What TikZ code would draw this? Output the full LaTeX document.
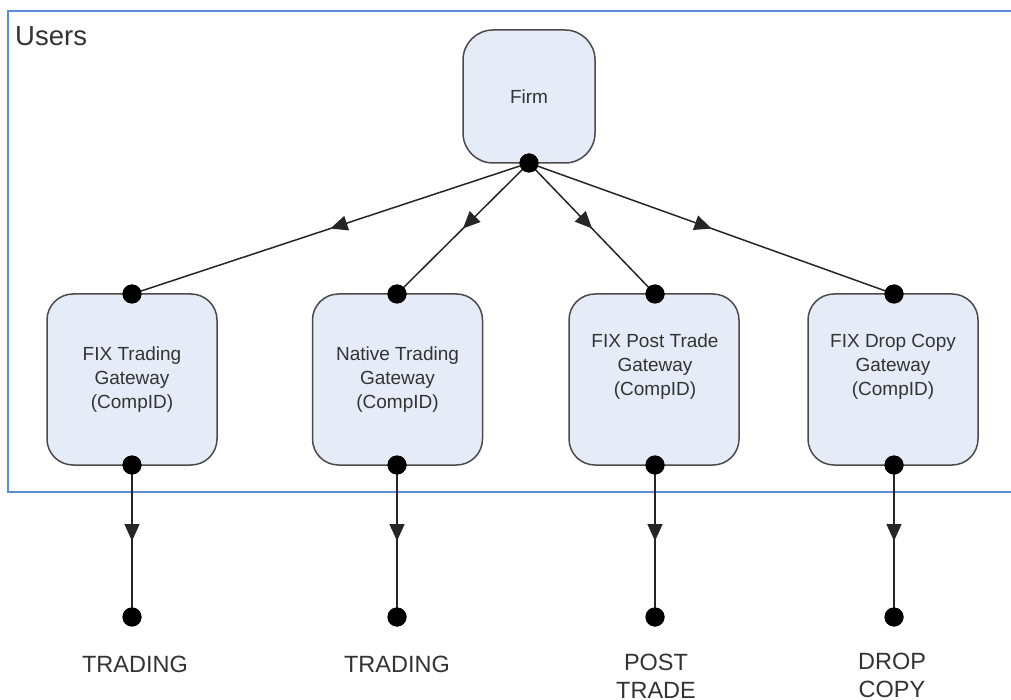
\documentclass[tikz,border=0pt]{standalone}
\usepackage{fontspec}
\setmainfont{Liberation Sans}
\usetikzlibrary{arrows.meta,decorations.markings}
\definecolor{boxfill}{HTML}{E6ECF7}
\definecolor{boxline}{HTML}{4A4A4A}
\definecolor{frameblue}{HTML}{5B8ED8}
\definecolor{txt}{HTML}{333333}
\tikzset{
  gwbox/.style={draw=boxline, line width=1.5pt, fill=boxfill, rounded corners=26pt,
    minimum width=170pt, minimum height=171pt, inner sep=0pt},
  firmbox/.style={draw=boxline, line width=1.5pt, fill=boxfill, rounded corners=30pt,
    minimum width=132pt, minimum height=133pt, inner sep=0pt, text=txt,
    font=\fontsize{19}{24}\selectfont},
  gwtext/.style={text=txt, align=center, inner sep=0pt, font=\fontsize{19}{24}\selectfont},
  endlabel/.style={text=txt, align=center, inner sep=0pt, font=\fontsize{23.5}{28}\selectfont},
  dot/.style={circle, fill=black, minimum size=19pt, inner sep=0pt},
  endpt/.style={circle, fill=black, minimum size=19pt, inner sep=0pt},
  conn/.style={draw=black!85, line width=1.5pt,
    postaction={decorate},
    decoration={markings, mark=at position 0.5 with {\arrow{Triangle[length=17pt,width=15pt]}}}},
}
\begin{document}
\begin{tikzpicture}[x=1pt,y=-1pt]
\useasboundingbox (0,0) rectangle (1011,700);
\fill[white] (0,0) rectangle (1011,700);
% Users frame (open to the right)
\coordinate (frTR) at (1011,11);
\coordinate (frTL) at (8,11);
\coordinate (frBL) at (8,492);
\coordinate (frBR) at (1011,492);
\draw[frameblue, line width=1.6pt] (frTR) -- (frTL) -- (frBL) -- (frBR);
\node[anchor=west, text=txt, inner sep=0pt, font=\fontsize{27.5}{30}\selectfont] (users) at (15,36) {Users};

% Firm
\node[firmbox] (firm) at (529,96.5) {Firm};

% Gateways
\node[gwbox] (g1) at (132,379.5) {};
\node[gwbox] (g2) at (397.5,379.5) {};
\node[gwbox] (g3) at (654,379.5) {};
\node[gwbox] (g4) at (893,379.5) {};
\node[gwtext] (t1) at (132,379.5) {FIX Trading\\Gateway\\(CompID)};
\node[gwtext] (t2) at (397.5,379.5) {Native Trading\\Gateway\\(CompID)};
\node[gwtext] (t3) at (655,366.5) {FIX Post Trade\\Gateway\\(CompID)};
\node[gwtext] (t4) at (893,367) {FIX Drop Copy\\Gateway\\(CompID)};

% dots
\node[dot] (fd) at (529,163) {};
\node[dot] (g1t) at (132,294) {};
\node[dot] (g2t) at (397,294) {};
\node[dot] (g3t) at (655,294) {};
\node[dot] (g4t) at (894,294) {};
\node[dot] (g1b) at (132,465) {};
\node[dot] (g2b) at (397,465) {};
\node[dot] (g3b) at (655,465) {};
\node[dot] (g4b) at (894,465) {};
\node[endpt] (e1) at (132,617) {};
\node[endpt] (e2) at (397,617) {};
\node[endpt] (e3) at (655,617) {};
\node[endpt] (e4) at (894,617) {};

% connectors
\path[conn] (fd.center) -- (g1t.center);
\path[conn] (fd.center) -- (g2t.center);
\path[conn] (fd.center) -- (g3t.center);
\path[conn] (fd.center) -- (g4t.center);
\path[conn] (g1b.center) -- (e1.center);
\path[conn] (g2b.center) -- (e2.center);
\path[conn] (g3b.center) -- (e3.center);
\path[conn] (g4b.center) -- (e4.center);
% redraw dots on top
\foreach \d in {fd,g1t,g2t,g3t,g4t,g1b,g2b,g3b,g4b,e1,e2,e3,e4}{\fill[black] (\d) circle (9.5pt);}

% end labels
\node[endlabel] (l1) at (135,664) {TRADING};
\node[endlabel] (l2) at (397,664) {TRADING};
\node[endlabel] (l3) at (656,676) {POST\\TRADE};
\node[endlabel] (l4) at (892,675) {DROP\\COPY};
\end{tikzpicture}
\end{document}
